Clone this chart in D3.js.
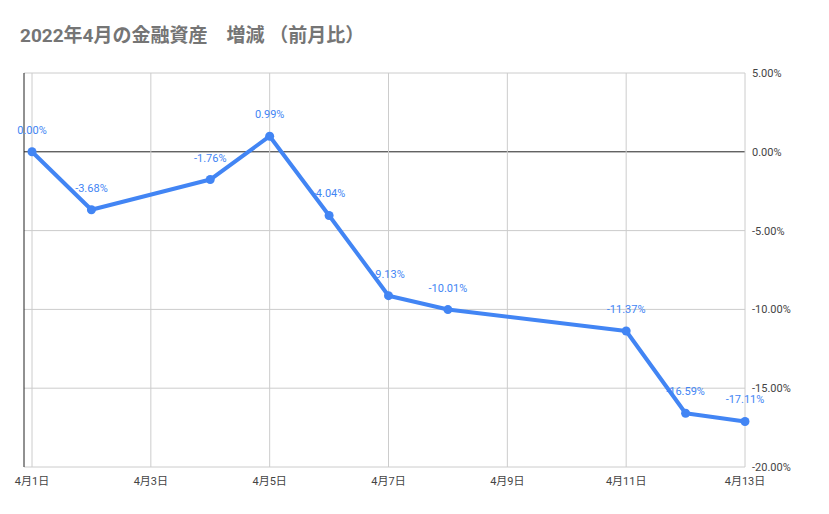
<!DOCTYPE html><html><head><meta charset="utf-8"><script src="https://cdn.jsdelivr.net/npm/d3@7"></script>
<style>body{margin:0;background:#fff}</style></head><body><svg id="c" width="829" height="514"></svg>
<script>
const days=[1,2,4,5,6,7,8,11,12,13];
const values=[0,-3.68,-1.76,0.99,-4.04,-9.13,-10.01,-11.37,-16.59,-17.11];
const yTicks=[5,0,-5,-10,-15,-20];
const xTicks=[1,3,5,7,9,11,13];
const svg=d3.select("#c");
const x=d3.scaleLinear().domain([1,13]).range([32,745]);
const y=d3.scaleLinear().domain([-20,5]).range([467,73]);
const font="Roboto, Arial, 'Noto Sans CJK JP', sans-serif";
svg.append("text").attr("x",20).attr("y",42).attr("font-family",font).attr("font-size",19).attr("font-weight","bold").attr("fill","#757575").text("2022年4月の金融資産　増減 （前月比）");
svg.selectAll(".hg").data(yTicks).join("line").attr("x1",24).attr("x2",745).attr("y1",d=>y(d)).attr("y2",d=>y(d)).attr("stroke",d=>d===0?"#222":"#ccc");
svg.selectAll(".vg").data(xTicks).join("line").attr("x1",d=>x(d)).attr("x2",d=>x(d)).attr("y1",73).attr("y2",467).attr("stroke","#ccc");
svg.append("line").attr("x1",24).attr("x2",24).attr("y1",73).attr("y2",467).attr("stroke","#222");
svg.selectAll(".yl").data(yTicks).join("text").attr("x",752).attr("y",d=>y(d)+4).attr("font-size",11).attr("font-family",font).attr("fill","#444").text(d=>d.toFixed(2)+"%");
svg.selectAll(".xl").data(xTicks).join("text").attr("x",d=>x(d)).attr("y",485).attr("text-anchor","middle").attr("font-size",11).attr("font-family",font).attr("fill","#444").text(d=>"4月"+d+"日");
const pts=days.map((d,i)=>[d,values[i]]);
svg.append("path").attr("d",d3.line().x(d=>x(d[0])).y(d=>y(d[1]))(pts)).attr("fill","none").attr("stroke","#4285F4").attr("stroke-width",4).attr("stroke-linejoin","round");
svg.selectAll(".pt").data(pts).join("circle").attr("cx",d=>x(d[0])).attr("cy",d=>y(d[1])).attr("r",4.5).attr("fill","#4285F4");
svg.selectAll(".lb").data(pts).join("text").attr("x",d=>x(d[0])).attr("y",d=>y(d[1])-18).attr("text-anchor","middle").attr("font-size",11).attr("font-family",font).attr("fill","#4285F4").text(d=>d[1].toFixed(2)+"%");
</script></body></html>
